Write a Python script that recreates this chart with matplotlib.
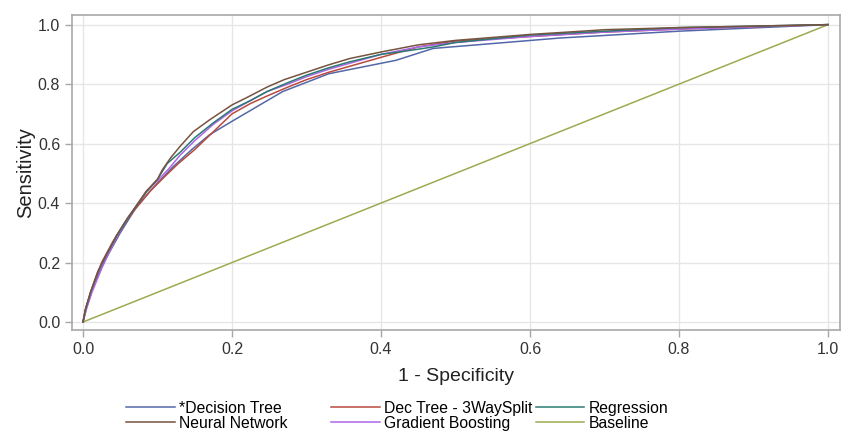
import matplotlib
matplotlib.use("Agg")
import matplotlib.pyplot as plt

plt.rcParams['font.family'] = ['Liberation Sans', 'DejaVu Sans']

# ROC curve data (1 - specificity, sensitivity)
dt_x = [0, 0.005, 0.015, 0.03, 0.05, 0.07, 0.09, 0.12, 0.146, 0.17, 0.2, 0.268, 0.33, 0.42, 0.47, 0.64, 0.8, 1.0]
dt_y = [0, 0.05, 0.13, 0.21, 0.30, 0.38, 0.44, 0.52, 0.58, 0.63, 0.675, 0.775, 0.835, 0.88, 0.92, 0.955, 0.978, 1.0]

d3_x = [0, 0.004, 0.012, 0.025, 0.04, 0.055, 0.07, 0.09, 0.11, 0.128, 0.15, 0.175, 0.2, 0.225, 0.247, 0.275, 0.3, 0.33, 0.358, 0.4, 0.45, 0.5, 0.6, 0.7, 0.8, 0.9, 1.0]
d3_y = [0, 0.05, 0.11, 0.2, 0.27, 0.33, 0.38, 0.44, 0.49, 0.533, 0.58, 0.64, 0.70, 0.735, 0.76, 0.79, 0.815, 0.84, 0.86, 0.89, 0.925, 0.945, 0.96, 0.975, 0.985, 0.993, 1.0]

rg_x = [0, 0.003, 0.01, 0.02, 0.03, 0.045, 0.06, 0.07, 0.086, 0.1, 0.113, 0.13, 0.15, 0.175, 0.2, 0.225, 0.247, 0.275, 0.3, 0.33, 0.358, 0.4, 0.43, 0.47, 0.5, 0.6, 0.7, 0.8, 0.9, 1.0]
rg_y = [0, 0.04, 0.1, 0.17, 0.22, 0.29, 0.35, 0.385, 0.44, 0.48, 0.533, 0.57, 0.62, 0.67, 0.715, 0.745, 0.775, 0.805, 0.83, 0.855, 0.875, 0.9, 0.91, 0.925, 0.94, 0.965, 0.978, 0.99, 0.995, 1.0]

nn_x = [0, 0.003, 0.01, 0.02, 0.03, 0.045, 0.06, 0.07, 0.085, 0.1, 0.106, 0.117, 0.13, 0.148, 0.17, 0.2, 0.22, 0.247, 0.27, 0.3, 0.33, 0.358, 0.4, 0.45, 0.5, 0.55, 0.6, 0.67, 0.7, 0.8, 0.9, 1.0]
nn_y = [0, 0.04, 0.1, 0.17, 0.22, 0.29, 0.35, 0.385, 0.44, 0.48, 0.51, 0.55, 0.59, 0.64, 0.68, 0.73, 0.755, 0.79, 0.815, 0.84, 0.865, 0.886, 0.908, 0.932, 0.947, 0.957, 0.967, 0.978, 0.983, 0.99, 0.995, 1.0]

gb_x = [0, 0.004, 0.012, 0.025, 0.04, 0.055, 0.07, 0.085, 0.1, 0.115, 0.13, 0.15, 0.175, 0.2, 0.225, 0.247, 0.275, 0.3, 0.33, 0.358, 0.4, 0.45, 0.5, 0.6, 0.7, 0.8, 0.9, 1.0]
gb_y = [0, 0.04, 0.1, 0.18, 0.26, 0.33, 0.385, 0.44, 0.475, 0.515, 0.56, 0.61, 0.665, 0.71, 0.745, 0.775, 0.80, 0.825, 0.85, 0.87, 0.9, 0.925, 0.94, 0.96, 0.975, 0.985, 0.993, 1.0]

base_x = [0, 1.0]
base_y = [0, 1.0]

labels = ["*Decision Tree", "Dec Tree - 3WaySplit", "Regression",
          "Neural Network", "Gradient Boosting", "Baseline"]
x_ticks = [0.0, 0.2, 0.4, 0.6, 0.8, 1.0]
y_ticks = [0.0, 0.2, 0.4, 0.6, 0.8, 1.0]

colors = {
    "dt": "#5368a8",
    "d3": "#b84a3e",
    "rg": "#2b7a72",
    "nn": "#765440",
    "gb": "#ad66e8",
    "base": "#9aab50",
}

fig = plt.figure(figsize=(8.43, 4.32), dpi=100)
ax = fig.add_axes([0.0854, 0.236, 0.911, 0.729])

lw = 1.1
h_base, = ax.plot(base_x, base_y, color=colors["base"], lw=lw, label=labels[5])
h_dt, = ax.plot(dt_x, dt_y, color=colors["dt"], lw=lw, label=labels[0])
h_d3, = ax.plot(d3_x, d3_y, color=colors["d3"], lw=lw, label=labels[1])
h_gb, = ax.plot(gb_x, gb_y, color=colors["gb"], lw=lw, label=labels[4])
h_rg, = ax.plot(rg_x, rg_y, color=colors["rg"], lw=lw, label=labels[2])
h_nn, = ax.plot(nn_x, nn_y, color=colors["nn"], lw=lw, label=labels[3])

ax.set_xlim(-0.0148, 1.016)
ax.set_ylim(-0.027, 1.032)
ax.set_xticks(x_ticks)
ax.set_yticks(y_ticks)
ax.set_xticklabels([f"{t:.1f}" for t in x_ticks])
ax.set_yticklabels([f"{t:.1f}" for t in y_ticks])
ax.grid(True, color="#e6e6e6", lw=1.0)
ax.set_axisbelow(True)
for s in ax.spines.values():
    s.set_color("#a8a8a8")
    s.set_linewidth(1.2)
ax.tick_params(colors="#333333", labelsize=11.5, length=5, color="#a8a8a8", width=1)
ax.set_xlabel("1 - Specificity", fontsize=14, color="#222222", labelpad=8)
ax.set_ylabel("Sensitivity", fontsize=14.5, color="#222222", labelpad=2)

# legend: three columns placed like the original
cols = [([h_dt, h_nn], [labels[0], labels[3]], 0.1495),
        ([h_d3, h_gb], [labels[1], labels[4]], 0.3925),
        ([h_rg, h_base], [labels[2], labels[5]], 0.6355)]
for hs, ls, xpos in cols:
    fig.legend(hs, ls, loc="center left", bbox_to_anchor=(xpos, 0.0375),
               ncol=1, frameon=False, fontsize=11.3, handlelength=3.1,
               handletextpad=0.3, labelspacing=0.0, borderpad=0,
               borderaxespad=0)

fig.savefig("out.png", dpi=100)
